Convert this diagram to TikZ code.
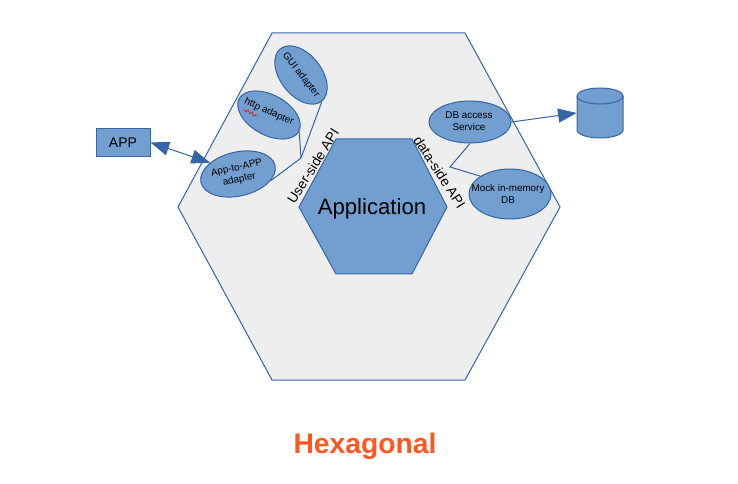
\documentclass[tikz,border=0pt]{standalone}
\usepackage{fontspec}
\setmainfont{Liberation Sans}
\usepackage{tikz}
\usetikzlibrary{shapes.geometric,arrows.meta}
\definecolor{HexLine}{HTML}{3465A4}
\definecolor{HexBlue}{HTML}{729FCF}
\definecolor{HexGrey}{HTML}{EEEEEE}
\definecolor{HexOrange}{HTML}{FF5722}
\begin{document}
\begin{tikzpicture}[x=0.75pt, y=-0.75pt,
    every node/.style={align=center, inner sep=0pt},
    hexshape/.style={draw=HexLine, line width=0.75pt},
    adapter/.style={draw=HexLine, fill=HexBlue, line width=0.75pt, ellipse},
    adaptertext/.style={font=\fontsize{7.4}{8.9}\selectfont},
    apitext/.style={font=\fontsize{10.3}{12}\selectfont},
    link/.style={draw=HexLine, line width=0.75pt}]
  \useasboundingbox (0,0) rectangle (738,484);
  \draw[hexshape, fill=HexGrey] (272,33) -- (465,33) -- (560,207) -- (465,380) -- (272,380) -- (178,207) -- cycle;
  \draw[hexshape, fill=HexBlue] (336,139) -- (412,139) -- (447,207) -- (412,274) -- (336,274) -- (299,207) -- cycle;
  \node[font=\fontsize{16.6}{20}\selectfont] (application) at (372,208.5) {Application};
  \node[draw=HexLine, fill=HexBlue, line width=0.75pt, minimum width=40.5pt, minimum height=21pt, font=\fontsize{10.5}{12}\selectfont] (appbox) at (123,142.5) {APP};
  \node[adapter, rotate=-52, minimum width=50pt, minimum height=31pt] (guiad) at (301,75) {};
  \node[adapter, rotate=-29, minimum width=51pt, minimum height=30pt] (httpad) at (269,115) {};
  \node[adapter, rotate=13, minimum width=57pt, minimum height=33pt] (appad) at (238,174) {};
  \node[adapter, minimum width=61.5pt, minimum height=31.5pt] (dbacc) at (470,122) {};
  \node[adapter, minimum width=61.5pt, minimum height=37.5pt] (mock) at (510,194) {};
  \node[adaptertext, rotate=-52] (guitext) at (301,75) {GUI adapter};
  \node[adaptertext, rotate=-24] (httptext) at (269,112) {http adapter};
  \node[adaptertext, rotate=13] (apptext) at (238,174) {App-to-APP\\adapter};
  \node[adaptertext] (dbtext) at (469,121.5) {DB access\\Service};
  \node[adaptertext] (mocktext) at (508,193.5) {Mock in-memory\\DB};
  \node[apitext, rotate=58] (userapi) at (313,166) {User-side API};
  \node[apitext, rotate=-57] (dataapi) at (439.5,172) {data-side API};
  \node[minimum width=34.5pt, minimum height=37.5pt] (database) at (600,113) {};
  % database drum
  \draw[hexshape, fill=HexBlue] (577,96) -- (577,130) arc[start angle=180, end angle=360, x radius=17.25pt, y radius=6pt] -- (623,96) arc[start angle=0, end angle=180, x radius=17.25pt, y radius=6pt] -- cycle;
  \draw[hexshape] (577,96) arc[start angle=180, end angle=360, x radius=17.25pt, y radius=6pt];
  \node[font=\fontsize{21.2}{25}\selectfont\bfseries, text=HexOrange] (title) at (365,446.5) {Hexagonal};
  \coordinate (userjoint) at (301,158);
  \coordinate (datajoint) at (450,167);
  \draw[link] (guiad.east) -- (userjoint);
  \draw[link] (httpad.east) -- (userjoint);
  \draw[link] (appad.-25) -- (userjoint);
  \draw[link] (dbacc.south) -- (datajoint) -- (mock.149);
  \draw[link, -{Triangle[length=14pt,width=10.5pt]}] (dbacc.east) -- (database.west);
  \draw[link, {Triangle[length=14pt,width=10.5pt]}-{Triangle[length=14pt,width=10.5pt]}] (appbox.east) -- (appad.145);
  % spell check mark under http
  \draw[red, line width=0.5pt] (244,109) -- (246,112) -- (248,110) -- (250,114) -- (252,112) -- (254,116) -- (257,115);
\end{tikzpicture}
\end{document}
